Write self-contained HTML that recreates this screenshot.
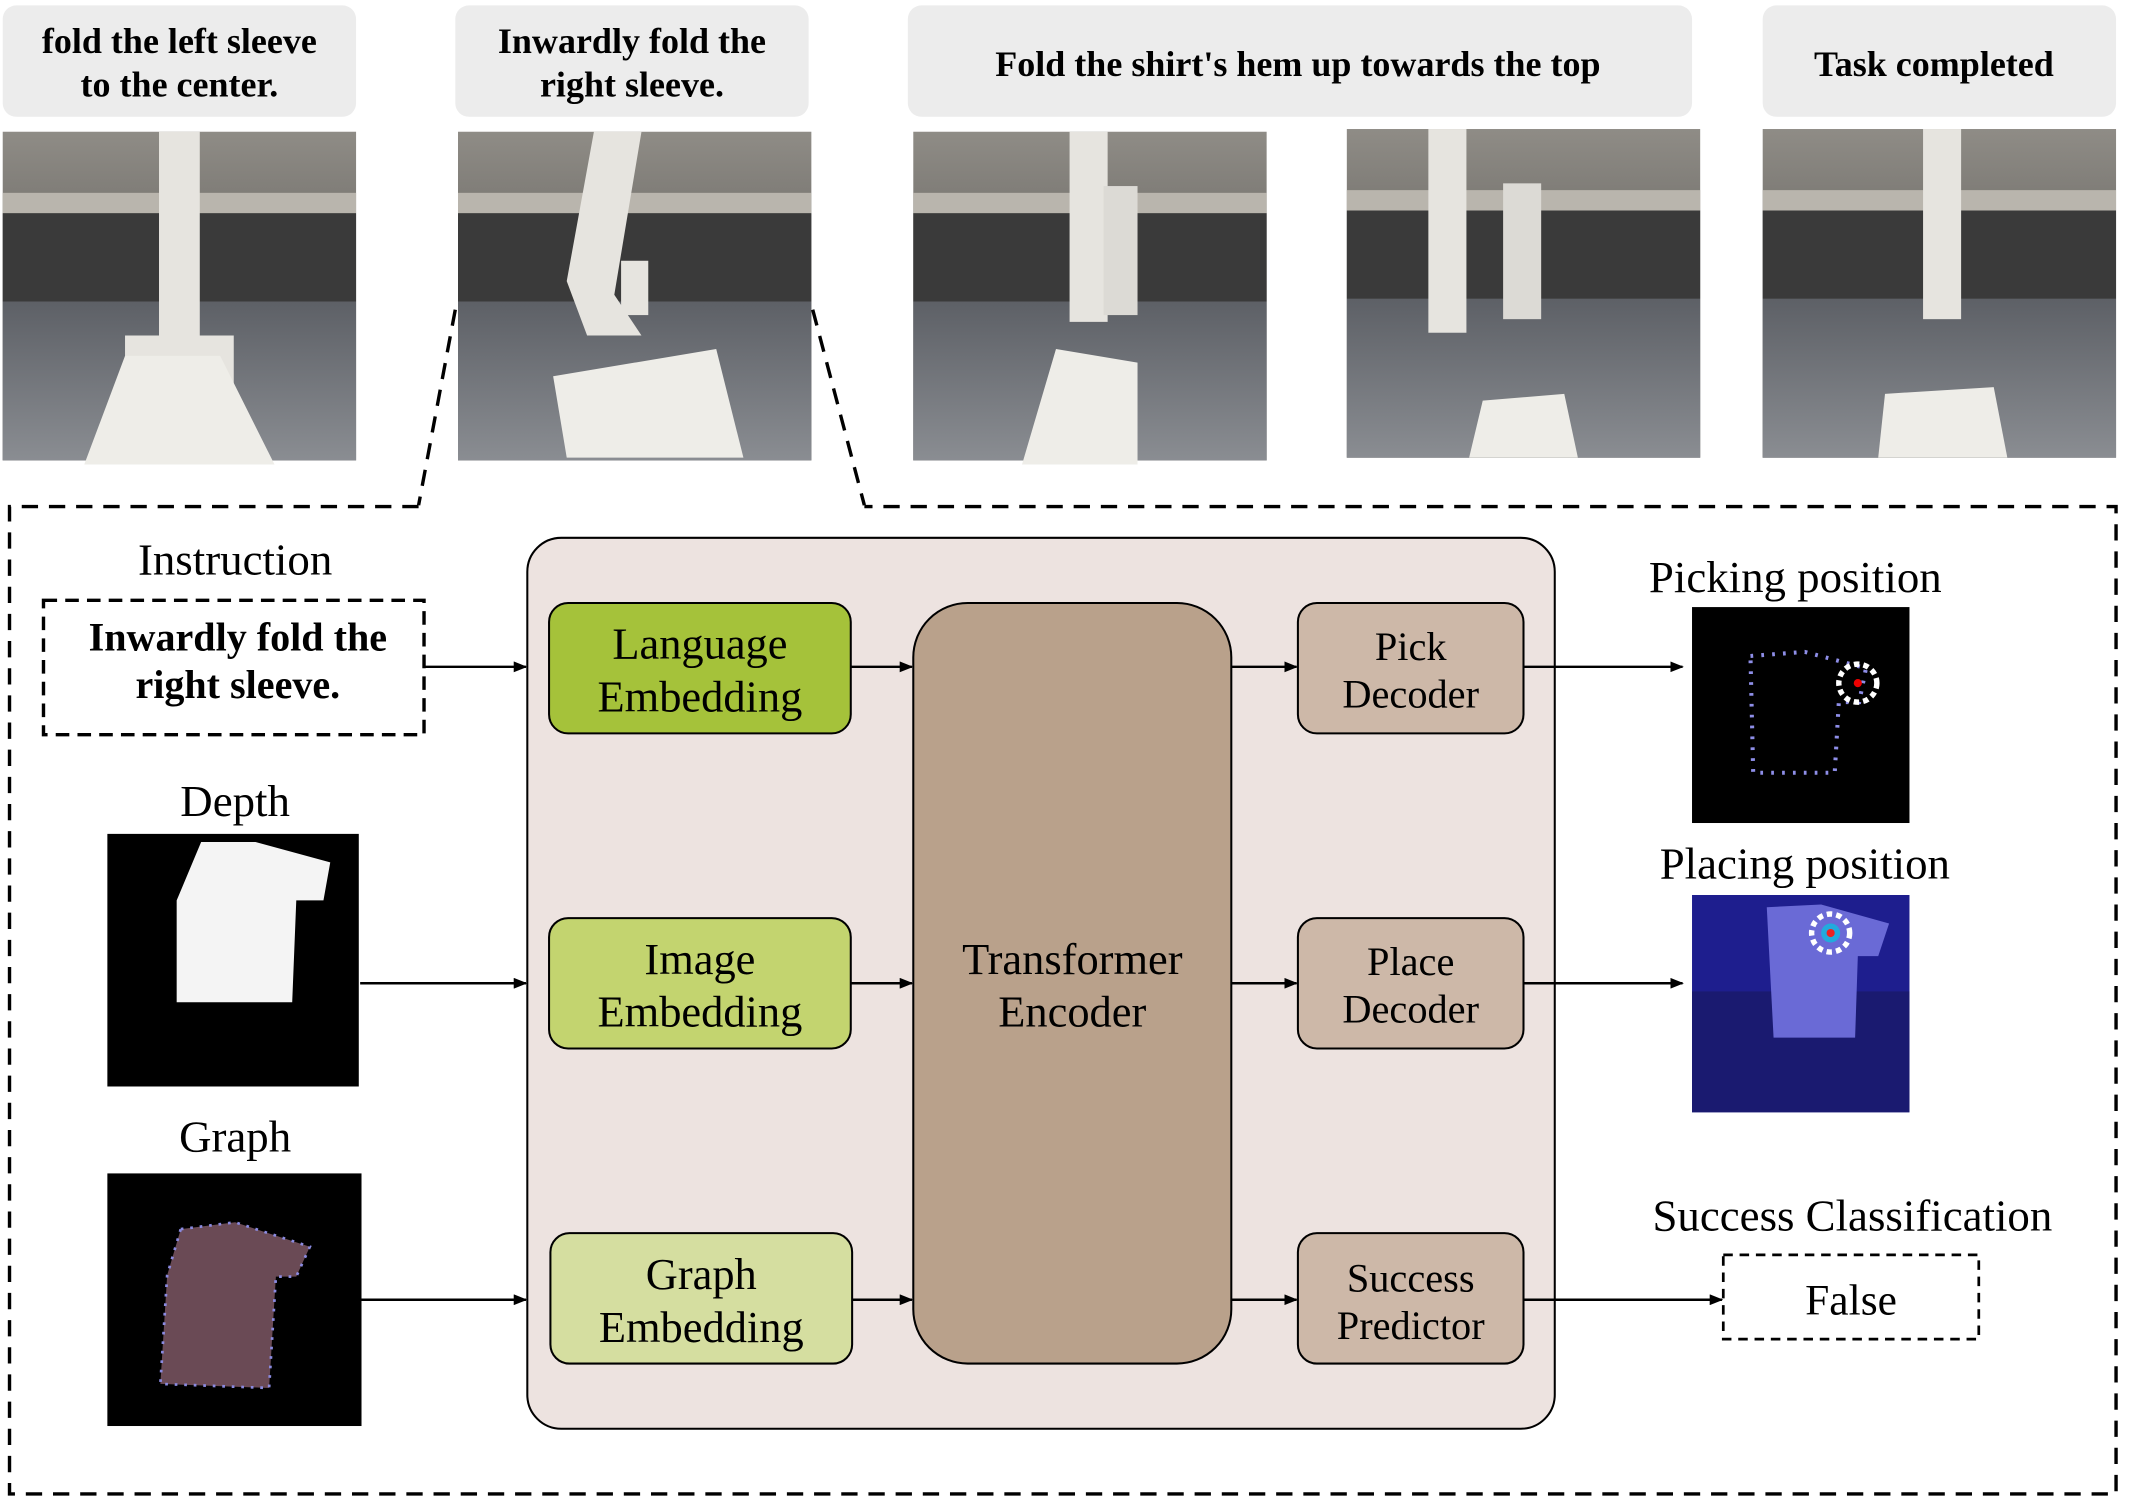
<!DOCTYPE html>
<html><head><meta charset="utf-8"><style>
html,body{margin:0;padding:0;background:#fff;}
svg{display:block;}
text{font-family:"Liberation Serif",serif;}
</style></head><body>
<svg width="2131" height="1498" viewBox="0 0 1568 1103" preserveAspectRatio="none" xmlns="http://www.w3.org/2000/svg">
<defs>
<marker id="ar" markerWidth="10" markerHeight="8" refX="9" refY="4" orient="auto" markerUnits="userSpaceOnUse">
<path d="M0,0 L10,4 L0,8 z" fill="#000"/></marker>
<linearGradient id="floor" x1="0" y1="0" x2="0" y2="1"><stop offset="0" stop-color="#5d6066"/><stop offset="1" stop-color="#8a8d92"/></linearGradient>
<linearGradient id="wall" x1="0" y1="0" x2="0" y2="1"><stop offset="0" stop-color="#8f8c86"/><stop offset="1" stop-color="#3f3e3c"/></linearGradient>
<g id="photo">
<rect x="0" y="0" width="260" height="242" fill="url(#wall)"/>
<rect x="0" y="45" width="260" height="15" fill="#b9b5ad"/>
<rect x="0" y="60" width="260" height="65" fill="#3a3a3a"/>
<rect x="0" y="125" width="260" height="117" fill="url(#floor)"/>
</g>
</defs>
<rect width="1568" height="1103" fill="#fff"/>
<g font-weight="bold" font-size="26.5" text-anchor="middle" fill="#000">
<rect x="2" y="4" width="260" height="82" rx="10" fill="#ececec"/>
<text x="132" y="39">fold the left sleeve</text><text x="132" y="71">to the center.</text>
<rect x="335" y="4" width="260" height="82" rx="10" fill="#ececec"/>
<text x="465" y="39">Inwardly fold the</text><text x="465" y="71">right sleeve.</text>
<rect x="668" y="4" width="577" height="82" rx="10" fill="#ececec"/>
<text x="955" y="56">Fold the shirt's hem up towards the top</text>
<rect x="1297" y="4" width="260" height="82" rx="10" fill="#ececec"/>
<text x="1423" y="56">Task completed</text>
</g>
<g transform="translate(2,97)"><use href="#photo"/><path d="M115,0 h30 v150 h25 v40 h-80 v-40 h25z" fill="#e6e4df"/><path d="M90,165 l70,0 l40,80 l-140,0z" fill="#eeede8"/></g>
<g transform="translate(337,97)"><use href="#photo"/><path d="M100,0 h35 l-20,120 l20,30 h-40 l-15,-40z" fill="#e6e4df"/><rect x="120" y="95" width="20" height="40" fill="#e6e4df"/><path d="M70,180 l120,-20 l20,80 l-130,0z" fill="#eeede8"/></g>
<g transform="translate(672,97)"><use href="#photo"/><rect x="115" y="0" width="28" height="140" fill="#e6e4df"/><rect x="140" y="40" width="25" height="95" fill="#dcdad5"/><path d="M105,160 l60,10 l0,75 l-85,0z" fill="#eeede8"/></g>
<g transform="translate(991,95)"><use href="#photo"/><rect x="60" y="0" width="28" height="150" fill="#e6e4df"/><rect x="115" y="40" width="28" height="100" fill="#dcdad5"/><path d="M100,200 l60,-5 l10,47 l-80,0z" fill="#eeede8"/></g>
<g transform="translate(1297,95)"><use href="#photo"/><rect x="118" y="0" width="28" height="140" fill="#e6e4df"/><path d="M90,195 l80,-5 l10,52 l-95,0z" fill="#eeede8"/></g>
<g stroke="#000" stroke-width="2.5" stroke-dasharray="12,8" fill="none">
<line x1="335" y1="228" x2="308" y2="372"/>
<line x1="598" y1="228" x2="636" y2="372"/>
<polyline points="308,373 7,373 7,1100 1557,1100 1557,373 636,373"/>
</g>
<rect x="388" y="396" width="756" height="656" rx="25" fill="#ede3e0" stroke="#000" stroke-width="1.5"/>
<g stroke="#000" stroke-width="1.5">
<rect x="404" y="444" width="222" height="96" rx="14" fill="#a5c23a"/>
<rect x="404" y="676" width="222" height="96" rx="14" fill="#c3d46f"/>
<rect x="405" y="908" width="222" height="96" rx="14" fill="#d5dea0"/>
<rect x="672" y="444" width="234" height="560" rx="40" fill="#b9a18b"/>
<rect x="955" y="444" width="166" height="96" rx="14" fill="#cdb8a8"/>
<rect x="955" y="676" width="166" height="96" rx="14" fill="#cdb8a8"/>
<rect x="955" y="908" width="166" height="96" rx="14" fill="#cdb8a8"/>
</g>
<g font-size="32.7" text-anchor="middle" fill="#000">
<text x="515" y="485">Language</text><text x="515" y="524">Embedding</text>
<text x="515" y="717">Image</text><text x="515" y="756">Embedding</text>
<text x="516" y="949">Graph</text><text x="516" y="988">Embedding</text>
<text x="789" y="717">Transformer</text><text x="789" y="756">Encoder</text>
</g>
<g font-size="29.7" text-anchor="middle" fill="#000">
<text x="1038" y="486">Pick</text><text x="1038" y="521">Decoder</text>
<text x="1038" y="718">Place</text><text x="1038" y="753">Decoder</text>
<text x="1038" y="951">Success</text><text x="1038" y="986">Predictor</text>
</g>
<g stroke="#000" stroke-width="1.8" marker-end="url(#ar)">
<line x1="312" y1="491" x2="387" y2="491"/>
<line x1="265" y1="724" x2="387" y2="724"/>
<line x1="266" y1="957" x2="387" y2="957"/>
<line x1="626" y1="491" x2="671" y2="491"/>
<line x1="626" y1="724" x2="671" y2="724"/>
<line x1="627" y1="957" x2="671" y2="957"/>
<line x1="906" y1="491" x2="954" y2="491"/>
<line x1="906" y1="724" x2="954" y2="724"/>
<line x1="906" y1="957" x2="954" y2="957"/>
<line x1="1121" y1="491" x2="1238" y2="491"/>
<line x1="1121" y1="724" x2="1238" y2="724"/>
<line x1="1121" y1="957" x2="1267" y2="957"/>
</g>
<g font-size="33" text-anchor="middle" fill="#000">
<text x="173" y="423">Instruction</text>
<text x="173" y="601">Depth</text>
<text x="173" y="848">Graph</text>
</g>
<rect x="32" y="442" width="280" height="99" fill="#fff" stroke="#000" stroke-width="2.5" stroke-dasharray="10,6"/>
<g font-size="29.5" font-weight="bold" text-anchor="middle"><text x="175" y="479">Inwardly fold the</text><text x="175" y="514">right sleeve.</text></g>
<rect x="79" y="614" width="185" height="186" fill="#000"/>
<path d="M148,620 l40,0 l55,15 l-5,28 l-20,0 l-3,75 l-85,0 l0,-75z" fill="#f4f4f4"/>
<rect x="79" y="864" width="187" height="186" fill="#000"/>
<path d="M133,905 l40,-5 l55,18 l-10,22 l-15,0 l-5,82 l-80,-3 l5,-80z" fill="#6a4a55" stroke="#8a8ae0" stroke-width="2" stroke-dasharray="2,5"/>
<g font-size="33" text-anchor="middle" fill="#000">
<text x="1321" y="436">Picking position</text>
<text x="1328" y="647">Placing position</text>
<text x="1363" y="906">Success Classification</text>
</g>
<rect x="1245" y="447" width="160" height="159" fill="#000"/>
<path d="M1288,483 l40,-3 l45,12 l-5,25 l-15,0 l-3,52 l-60,0z" fill="none" stroke="#8e8ee8" stroke-width="3" stroke-dasharray="2,6"/>
<circle cx="1367" cy="503" r="14" fill="none" stroke="#fff" stroke-width="4" stroke-dasharray="4,3"/>
<circle cx="1367" cy="503" r="3" fill="#e00"/>
<rect x="1245" y="659" width="160" height="160" fill="#1e1e8e"/>
<rect x="1245" y="730" width="160" height="89" fill="#1a1a70"/>
<path d="M1300,668 l40,-2 l50,14 l-8,24 l-15,0 l-2,60 l-60,0z" fill="#6a6ad6"/>
<circle cx="1347" cy="687" r="14" fill="none" stroke="#fff" stroke-width="4" stroke-dasharray="4,3"/>
<circle cx="1347" cy="687" r="7" fill="#2ad"/><circle cx="1347" cy="687" r="3" fill="#e22"/>
<rect x="1268" y="924" width="188" height="62" fill="#fff" stroke="#000" stroke-width="2" stroke-dasharray="7,5"/>
<text x="1362" y="968" font-size="32" text-anchor="middle">False</text>
</svg>
</body></html>
